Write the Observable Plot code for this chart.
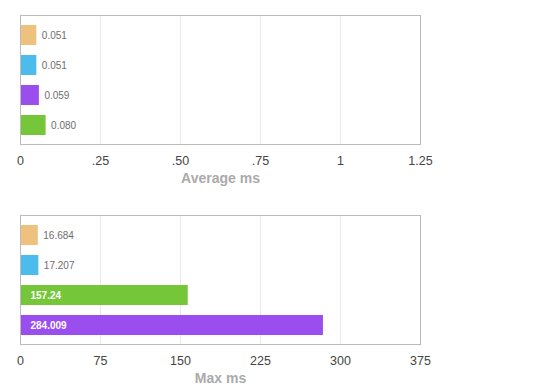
<!DOCTYPE html>
<html><head><meta charset="utf-8">
<script src="https://cdn.jsdelivr.net/npm/d3@7"></script>
<script src="https://cdn.jsdelivr.net/npm/@observablehq/plot@0.6"></script>
<style>
body{margin:0;background:#fff;}
#c svg{display:block;}
</style>
</head><body><div id="c"></div>
<script>
const series = ["A", "B", "C", "D"];
const colors = ["#EEC27E", "#4CBCEC", "#9A4EEE", "#76C63A"];
const avgValues = [0.051, 0.051, 0.059, 0.080];
const avgLabels = ["0.051", "0.051", "0.059", "0.080"];
const maxValues = [16.684, 17.207, 284.009, 157.24];
const maxLabels = ["16.684", "17.207", "284.009", "157.24"];
const avgTicks = [0, 0.25, 0.5, 0.75, 1, 1.25];
const avgTickLabels = ["0", ".25", ".50", ".75", "1", "1.25"];
const maxTicks = [0, 75, 150, 225, 300, 375];
const maxTickLabels = ["0", "75", "150", "225", "300", "375"];

const FONT = '"Helvetica Neue", Helvetica, Arial, "Liberation Sans", sans-serif';

function panel({values, labels, ticks, tickLabels, title, mt, mb}) {
  const H = 195;
  const data = series.map((s, i) => ({s, v: values[i], label: labels[i]}));
  const order = data.slice().sort((a, b) => a.v - b.v).map(d => d.s);
  const max = ticks[ticks.length - 1];
  const inside = d => d.v / max > 0.25;
  return Plot.plot({
    width: 560, height: H,
    marginLeft: 20, marginRight: 140, marginTop: mt, marginBottom: mb,
    style: {fontFamily: FONT, fontSize: "12.5px", color: "#444", background: "white"},
    x: {domain: [0, max], ticks, tickFormat: d => tickLabels[ticks.indexOf(d)],
        tickSize: 0, tickPadding: 12, label: null},
    y: {domain: order, range: [mt + 5, mt + 125], paddingInner: 1/3, paddingOuter: 1/6, axis: null},
    color: {domain: series, range: colors},
    marks: [
      Plot.ruleX(ticks.slice(1, -1), {stroke: "#e8e8e8"}),
      Plot.barX(data, {x: "v", y: "s", fill: "s"}),
      Plot.text(data.filter(d => !inside(d)), {x: "v", y: "s", text: "label", textAnchor: "start", dx: 5, fill: "#6e6e6e", fontSize: 10}),
      Plot.text(data.filter(inside), {y: "s", text: "label", frameAnchor: "left", textAnchor: "start", dx: 10, fill: "white", fontWeight: "bold", fontSize: 10}),
      Plot.frame({stroke: "#bbb"}),
      Plot.text([title], {frameAnchor: "bottom", dy: 38, fontWeight: "bold", fontSize: 14, fill: "#aaa"})
    ]
  });
}

const c = document.getElementById("c");
c.append(panel({values: avgValues, labels: avgLabels, ticks: avgTicks, tickLabels: avgTickLabels, title: "Average ms", mt: 15, mb: 51}));
c.append(panel({values: maxValues, labels: maxLabels, ticks: maxTicks, tickLabels: maxTickLabels, title: "Max ms", mt: 20, mb: 46}));
</script>
</body></html>
